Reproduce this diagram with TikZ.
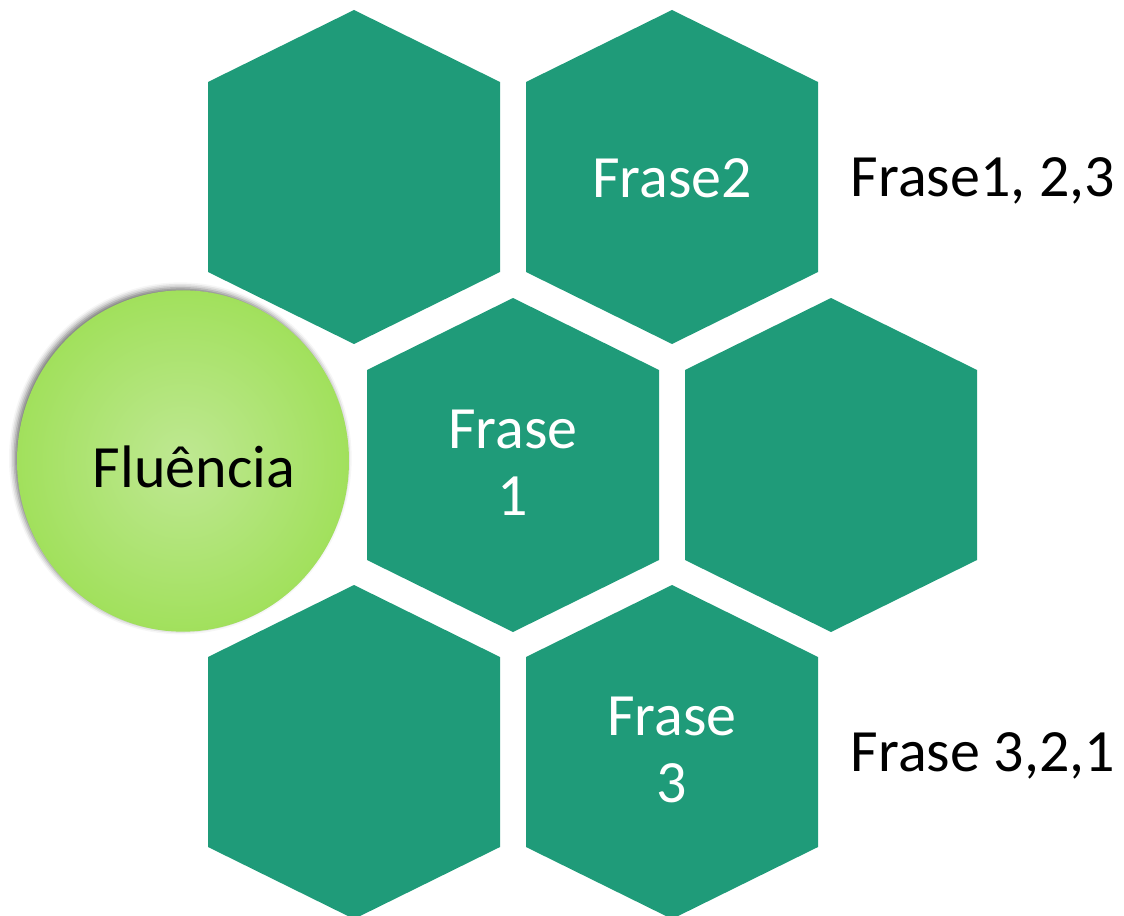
\documentclass[tikz,border=0pt]{standalone}
\usepackage{fontspec}
\setmainfont{Carlito}
\usetikzlibrary{shadows.blur, shapes.geometric}

\definecolor{hexgreen}{HTML}{1F9B79}
\definecolor{ballcore}{HTML}{BFE893}
\definecolor{ballmid}{HTML}{A0E05A}
\definecolor{balledge}{HTML}{7DBE36}
\pgfdeclareradialshading{fluball}{\pgfpoint{0bp}{0bp}}{color(0bp)=(ballcore); color(26bp)=(ballmid); color(45bp)=(balledge); color(50bp)=(balledge)}

\tikzset{
  hexcell/.style={fill=hexgreen},
  hexlabel/.style={text=white, align=center, font=\fontsize{45}{50}\selectfont},
  sidelabel/.style={anchor=base west, font=\fontsize{45}{50}\selectfont},
}

\begin{document}
\begin{tikzpicture}[x=0.75pt, y=-0.75pt]
  % Frame
  \useasboundingbox (0,0) rectangle (1124,916);

  % Honeycomb
  \foreach \cx/\cy in {354/177, 672/177, 513/465, 831/465, 354/752, 672/752}
    \fill [hexcell, shift={(\cx,\cy)}] (0,-167) -- (146,-95) -- (146,95) -- (0,167) -- (-146,95) -- (-146,-95) -- cycle;

  % Ball
  \node (ball) [ellipse, inner sep=0pt, minimum width=249pt, minimum height=256pt, shading=fluball,
    blur shadow={shadow xshift=-2pt, shadow yshift=2pt, shadow blur radius=4pt, shadow opacity=55}] at (183,461) {};
  \node (flu) at (194,467) {\fontsize{45}{50}\selectfont Fluência};

  % Labels
  \node (frase2) [hexlabel] at (672,178) {Frase2};
  \node (frase1) [hexlabel] at (513,463) {Frase\\1};
  \node (frase3) [hexlabel] at (672,750) {Frase\\3};
  \node (order123) [sidelabel] at (846,197) {Frase1, 2,3};
  \node (order321) [sidelabel] at (846,771) {Frase 3,2,1};
\end{tikzpicture}
\end{document}
